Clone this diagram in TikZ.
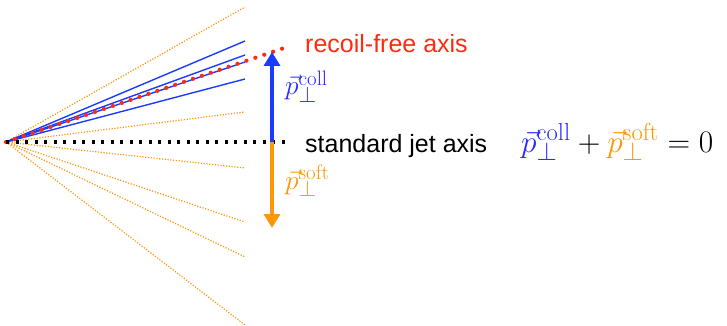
\documentclass[tikz,border=0pt]{standalone}
\usepackage{fontspec}
\newfontfamily\axisfont{Liberation Sans}
\usepackage{tikz}
\usetikzlibrary{arrows.meta, positioning, calc}
\definecolor{colorColl}{HTML}{1A3CFA}
\definecolor{colorSoft}{HTML}{FF9508}
\definecolor{colorRecoil}{HTML}{FF2A10}
\definecolor{colorMathColl}{HTML}{2A2AFF}
% momentum with a larger superscript tag
\newcommand{\momentum}[2]{\vec{p}_\perp^{\hbox{\fontsize{#1}{#1}\selectfont #2}}}

\begin{document}
\begin{tikzpicture}[
        x=1pt, y=-1pt,
        jetline/.style={colorColl, line width=1.4pt},
        softline/.style={colorSoft, line width=1.2pt, dash pattern=on 1.2pt off 1.6pt},
        stdaxis/.style={black, line width=3.4pt, dash pattern=on 3.4pt off 6.1pt},
        freeaxis/.style={colorRecoil, line width=4.2pt, line cap=round, dash pattern=on 0pt off 9.4pt},
        pvec/.style={line width=4pt, -{Triangle[length=14pt, width=16pt]}},
        axislabel/.style={anchor=base west, inner sep=0pt, font=\axisfont\fontsize{25}{30}\selectfont},
        mathbase/.style={anchor=base west, inner sep=0pt, font=\fontsize{24.88}{30}\selectfont, transform shape},
        mathlabel/.style={mathbase, scale=1.1},
        sumlabel/.style={mathbase, scale=1.26}
    ]
        \useasboundingbox (0,0) rectangle (727,326);

        \coordinate (o) at (6,142);
        \coordinate (base) at (272,142);
        \coordinate (collTip) at (272,52);
        \coordinate (softTip) at (272,228);
        \coordinate (freeEnd) at (290,46);
        \coordinate (stdEnd) at (288,142);

        % soft radiation
        \foreach \y [count=\i] in {7,112,168,222,257,325} {
            \coordinate (s\i) at (245,\y);
            \draw[softline] (o) -- (s\i);
        }
        % collinear radiation
        \foreach \y [count=\i] in {41,55,62,79} {
            \coordinate (c\i) at (245,\y);
            \draw[jetline] (o) -- (c\i);
        }

        \draw[freeaxis] (o) -- (freeEnd);
        \draw[stdaxis] (o) -- (stdEnd);

        \draw[pvec, colorColl] (base) -- (collTip);
        \draw[pvec, colorSoft] (base) -- (softTip);

        \node[axislabel, text=colorRecoil] (free) at (305,53) {recoil-free axis};
        \node[axislabel] (std) at (305,152) {standard jet axis};
        \node[mathlabel, text=colorMathColl] (pcoll) at (285,95) {$\momentum{19}{coll}$};
        \node[mathlabel, text=colorSoft] (psoft) at (285,189) {$\momentum{19}{soft}$};
        \node[sumlabel] (sum) at (521,152)
            {${\color{colorMathColl}\momentum{19.5}{coll}} + {\color{colorSoft}\momentum{19.5}{soft}} = 0$};
    \end{tikzpicture}
\end{document}
